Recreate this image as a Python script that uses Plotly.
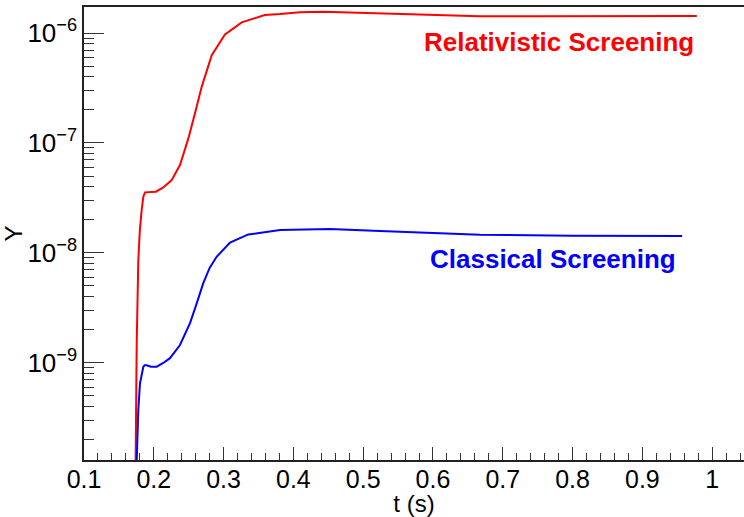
import plotly.graph_objects as go

# Time samples (s) and yields for relativistic screening
t_rel = [0.1738, 0.1755, 0.1778, 0.1800, 0.1826, 0.1850, 0.1875, 0.2030, 0.2137,
         0.2256, 0.2375, 0.2495, 0.2590, 0.2686, 0.2830, 0.3020, 0.3260, 0.3590,
         0.3810, 0.4095, 0.4430, 0.5240, 0.5960, 0.6670, 0.7500, 0.8500, 0.9780]
y_rel = [1.0e-10, 1.5e-9, 8.5e-9, 1.6e-8, 2.45e-8, 3.24e-8, 3.55e-8, 3.60e-8, 3.94e-8,
         4.59e-8, 6.3e-8, 1.10e-7, 1.86e-7, 3.24e-7, 6.3e-7, 9.7e-7, 1.25e-6, 1.46e-6,
         1.49e-6, 1.55e-6, 1.56e-6, 1.51e-6, 1.46e-6, 1.42e-6, 1.42e-6, 1.42e-6, 1.43e-6]

# Time samples (s) and yields for classical screening
t_cls = [0.1750, 0.1755, 0.1778, 0.1802, 0.1830, 0.1850, 0.1870, 0.1898, 0.1960,
         0.2041, 0.2130, 0.2232, 0.2375, 0.2519, 0.2610, 0.2709, 0.2800, 0.2900,
         0.3092, 0.3354, 0.3810, 0.4524, 0.5240, 0.5960, 0.6670, 0.8000, 0.9570]
y_cls = [1.0e-10, 1.4e-10, 3.7e-10, 6.5e-10, 8.3e-10, 9.2e-10, 9.5e-10, 9.5e-10, 9.2e-10,
         9.2e-10, 9.9e-10, 1.10e-9, 1.45e-9, 2.29e-9, 3.4e-9, 5.3e-9, 7.3e-9, 9.2e-9,
         1.24e-8, 1.47e-8, 1.61e-8, 1.65e-8, 1.58e-8, 1.51e-8, 1.46e-8, 1.43e-8, 1.42e-8]

y_major = [1e-9, 1e-8, 1e-7, 1e-6]
y_major_text = ["10<sup>\u22129</sup>", "10<sup>\u22128</sup>",
                "10<sup>\u22127</sup>", "10<sup>\u22126</sup>"]
y_minor = [m * 10.0 ** e for e in (-10, -9, -8, -7) for m in range(2, 10)]

x_range = [0.1, 1.0456]
y_range_log = [-9.885, -5.763]

FONT = "Liberation Sans, Arial, Helvetica, sans-serif"

fig = go.Figure()
fig.add_trace(go.Scatter(x=t_rel, y=y_rel, mode="lines",
                         line=dict(color="#ff0000", width=2), showlegend=False))
fig.add_trace(go.Scatter(x=t_cls, y=y_cls, mode="lines",
                         line=dict(color="#0000ff", width=2), showlegend=False))

fig.add_annotation(x=0.9765, y=-6.082, xref="x", yref="y",
                   text="Relativistic Screening", showarrow=False,
                   xanchor="right", yanchor="middle",
                   font=dict(family=FONT, size=26, color="#ff0000", weight="bold"))
fig.add_annotation(x=0.9515, y=-8.052, xref="x", yref="y",
                   text="Classical Screening", showarrow=False,
                   xanchor="right", yanchor="middle",
                   font=dict(family=FONT, size=26, color="#0000ff", weight="bold"))

fig.update_xaxes(
    range=x_range, tick0=0.1, dtick=0.1,
    ticks="inside", ticklen=13, tickwidth=1.2, tickcolor="#333",
    minor=dict(dtick=0.02, ticks="inside", ticklen=7, tickwidth=1.2, tickcolor="#333"),
    showline=True, linecolor="#222", linewidth=1.5, mirror=True,
    showgrid=False, zeroline=False, ticklabelstandoff=-4,
    tickfont=dict(family=FONT, size=25, color="black"),
    title=dict(text="t (s)", font=dict(family=FONT, size=24, color="black"), standoff=2),
)
fig.update_yaxes(
    type="log", range=y_range_log,
    tickvals=y_major, ticktext=y_major_text,
    ticks="inside", ticklen=20, tickwidth=1.2, tickcolor="#333",
    minor=dict(tickvals=y_minor, ticks="inside", ticklen=10, tickwidth=1.2, tickcolor="#333"),
    showline=True, linecolor="#222", linewidth=1.5,
    showgrid=False, zeroline=False,
    tickfont=dict(family=FONT, size=26, color="black"),
    title=dict(text="Y", font=dict(family=FONT, size=24, color="black"), standoff=0),
)

fig.update_layout(
    width=744, height=517,
    margin=dict(l=84, r=0, t=7, b=57),
    paper_bgcolor="white", plot_bgcolor="white",
)

fig.write_html("out.html")
